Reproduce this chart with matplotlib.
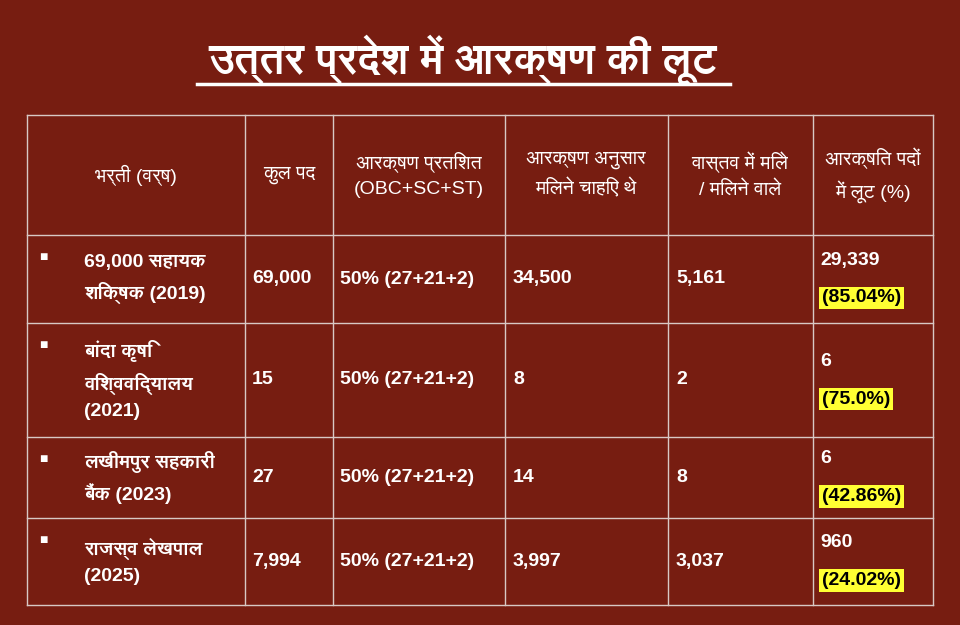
import matplotlib.pyplot as plt
from matplotlib import font_manager

# pick up any installed Devanagari font as fallback
deva = []
for f in font_manager.fontManager.ttflist:
    n = f.name
    if any(k in n for k in ['Devanagari', 'Lohit', 'Mukta', 'Hind', 'FreeSans', 'Gargi', 'Kalimati', 'Mangal', 'Sarai']):
        if n not in deva:
            deva.append(n)
fams = ['Liberation Sans'] + deva + ['DejaVu Sans']
plt.rcParams['font.family'] = fams

title = 'उत्तर प्रदेश में आरक्षण की लूट'
headers = ['भर्ती (वर्ष)', 'कुल पद', 'आरक्षण प्रतिशत\n(OBC+SC+ST)', 'आरक्षण अनुसार\nमिलने चाहिए थे',
           'वास्तव में मिले\n/ मिलने वाले', 'आरक्षित पदों\nमें लूट (%)']
recruitments = ['69,000 सहायक\nशिक्षक (2019)', 'बांदा कृषि\nविश्वविद्यालय\n(2021)',
                'लखीमपुर सहकारी\nबैंक (2023)', 'राजस्व लेखपाल\n(2025)']
total_posts = ['69,000', '15', '27', '7,994']
reserve_pct = ['50% (27+21+2)'] * 4
should_get = ['34,500', '8', '14', '3,997']
actual_got = ['5,161', '2', '8', '3,037']
looted = ['29,339', '6', '6', '960']
looted_pct = ['(85.04%)', '(75.0%)', '(42.86%)', '(24.02%)']

bg = '#771d11'
fig = plt.figure(figsize=(9.6, 6.25), dpi=100, facecolor=bg)
ax = fig.add_axes([0, 0, 1, 1])
ax.set_xlim(0, 960)
ax.set_ylim(625, 0)
ax.axis('off')

ax.text(463, 60, title, color='white', fontsize=30, fontweight='bold', ha='center', va='center')
ax.plot([197, 730], [84, 84], color='white', lw=2.5)

xs = [27, 245, 333, 505, 668, 813, 933]
ys = [115, 235, 323, 437, 518, 605]
for x in xs:
    ax.plot([x, x], [ys[0], ys[-1]], color='#d8c8c4', lw=1)
for y in ys:
    ax.plot([xs[0], xs[-1]], [y, y], color='#d8c8c4', lw=1)

fs = 14
hc = [136, 289, 419, 586, 740, 873]
for i, h in enumerate(headers):
    ax.text(hc[i], 175, h, color='white', fontsize=fs, ha='center', va='center', linespacing=1.6)

for r in range(4):
    y0, y1 = ys[r + 1], ys[r + 2]
    yc = (y0 + y1) / 2
    ax.text(39, y0 + 22, '■', color='white', fontsize=10, ha='left', va='center')
    ax.text(84, yc, recruitments[r], color='white', fontsize=fs, fontweight='bold', ha='left', va='center', linespacing=1.6)
    for x, v in zip([252, 340, 513, 676], [total_posts[r], reserve_pct[r], should_get[r], actual_got[r]]):
        ax.text(x, yc, v, color='white', fontsize=fs, fontweight='bold', ha='left', va='center')
    ax.text(820, yc - 19, looted[r], color='white', fontsize=fs, fontweight='bold', ha='left', va='center')
    ax.text(822, yc + 19, looted_pct[r], color='black', fontsize=fs, fontweight='bold', ha='left', va='center',
            bbox=dict(boxstyle='square,pad=0.15', fc='#ffff33', ec='none'))

fig.savefig('out.png', dpi=100, facecolor=bg)
